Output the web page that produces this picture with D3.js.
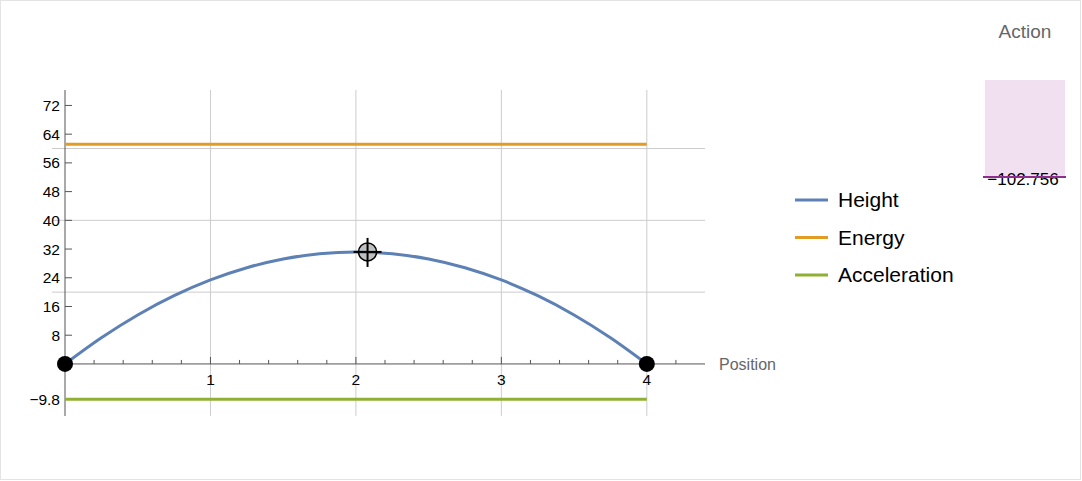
<!DOCTYPE html>
<html>
<head>
<meta charset="utf-8">
<script src="https://cdn.jsdelivr.net/npm/d3@7"></script>
<style>
  html, body { margin: 0; padding: 0; background: #fff; }
  svg { display: block; font-family: "Liberation Sans", Arial, sans-serif; }
</style>
</head>
<body>
<svg id="chart" width="1082" height="481"></svg>
<script>
// ---- data ----
const positions = [0, 0.25, 0.5, 0.75, 1, 1.25, 1.5, 1.75, 2, 2.25, 2.5, 2.75, 3, 3.25, 3.5, 3.75, 4];
const heightValues = [0, 7.3, 13.65, 19.0, 23.4, 26.8, 29.25, 30.7, 31.2, 30.7, 29.25, 26.8, 23.4, 19.0, 13.65, 7.3, 0];
const energyValues = [61.2, 61.2];
const energyPositions = [0, 4];
const accelerationValues = [-9.8, -9.8];
const accelerationPositions = [0, 4];
const endpointPositions = [0, 4];
const endpointValues = [0, 0];
const markerPosition = [2.08];
const markerValue = [31.2];
const yTickValues = [8, 16, 24, 32, 40, 48, 56, 64, 72, -9.8];
const yTickLabels = ["8", "16", "24", "32", "40", "48", "56", "64", "72", "\u22129.8"];
const yGridValues = [20, 40, 60];
const xTickValues = [1, 2, 3, 4];
const xTickLabels = ["1", "2", "3", "4"];
const legendNames = ["Height", "Energy", "Acceleration"];
const legendColors = ["#5e81b5", "#e19c24", "#8fb032"];
const actionValue = [-102.756];
const actionLabel = ["\u2212102.756"];

// ---- setup ----
const svg = d3.select("#chart");
svg.append("rect").attr("x", 0.5).attr("y", 0.5).attr("width", 1080).attr("height", 479)
  .attr("fill", "#fff").attr("stroke", "#e4e4e4");

const x = d3.scaleLinear().domain([0, 4.4]).range([65, 705]);
const y = d3.scaleLinear().domain([-14.5, 76.3]).range([416, 90]);

const axisColor = "#555";
const gridColor = "#cccccc";

// grid
const g = svg.append("g");
g.selectAll(".vgrid").data(xTickValues).join("line")
  .attr("x1", d => x(d)).attr("x2", d => x(d))
  .attr("y1", y.range()[1]).attr("y2", y.range()[0])
  .attr("stroke", gridColor).attr("stroke-width", 1);
g.selectAll(".hgrid").data(yGridValues).join("line")
  .attr("x1", 52).attr("x2", x.range()[1])
  .attr("y1", d => y(d)).attr("y2", d => y(d))
  .attr("stroke", gridColor).attr("stroke-width", 1);

// x axis
const minorX = d3.range(0, 22).map(i => i * 0.2).filter(v => v > 0.01);
const xAxis = svg.append("g");
xAxis.append("line").attr("x1", x(0)).attr("x2", x.range()[1])
  .attr("y1", y(0)).attr("y2", y(0)).attr("stroke", axisColor);
xAxis.selectAll(".minor").data(minorX).join("line")
  .attr("x1", d => x(d)).attr("x2", d => x(d))
  .attr("y1", y(0)).attr("y2", d => Math.abs(d - Math.round(d)) < 0.01 ? y(0) - 7 : y(0) - 4)
  .attr("stroke", axisColor);
xAxis.selectAll(".xlab").data(xTickValues).join("text")
  .attr("x", d => x(d)).attr("y", y(0) + 21)
  .attr("text-anchor", "middle").attr("font-size", 15.5).attr("fill", "#000")
  .text((d, i) => xTickLabels[i]);
svg.append("text").attr("x", 719).attr("y", y(0) + 6)
  .attr("font-size", 16).attr("fill", "#666").text("Position");

// y axis
const yAxis = svg.append("g");
yAxis.append("line").attr("x1", x(0)).attr("x2", x(0))
  .attr("y1", y.range()[1]).attr("y2", y.range()[0]).attr("stroke", axisColor);
yAxis.selectAll(".yt").data(yTickValues).join("line")
  .attr("x1", x(0)).attr("x2", x(0) + 7)
  .attr("y1", d => y(d)).attr("y2", d => y(d)).attr("stroke", axisColor);
yAxis.selectAll(".ylab").data(yTickValues).join("text")
  .attr("x", x(0) - 5).attr("y", d => y(d) + 5.5)
  .attr("text-anchor", "end").attr("font-size", 15.5).attr("fill", "#000")
  .text((d, i) => yTickLabels[i]);

// lines
const line = d3.line().x(d => x(d[0])).y(d => y(d[1]));
svg.append("path")
  .datum(energyPositions.map((p, i) => [p, energyValues[i]]))
  .attr("d", line).attr("fill", "none").attr("stroke", legendColors[1]).attr("stroke-width", 3);
svg.append("path")
  .datum(accelerationPositions.map((p, i) => [p, accelerationValues[i]]))
  .attr("d", line).attr("fill", "none").attr("stroke", legendColors[2]).attr("stroke-width", 3);
svg.append("path")
  .datum(positions.map((p, i) => [p, heightValues[i]]))
  .attr("d", line.curve(d3.curveCatmullRom)).attr("fill", "none")
  .attr("stroke", legendColors[0]).attr("stroke-width", 3);

// endpoints
svg.selectAll(".ep").data(endpointPositions).join("circle")
  .attr("cx", d => x(d)).attr("cy", (d, i) => y(endpointValues[i]))
  .attr("r", 8).attr("fill", "#000");

// marker
const mx = x(markerPosition[0]), my = y(markerValue[0]);
svg.append("circle").attr("cx", mx).attr("cy", my).attr("r", 9)
  .attr("fill", "rgba(150,150,150,0.6)").attr("stroke", "#000").attr("stroke-width", 1.5);
svg.append("line").attr("x1", mx - 14).attr("x2", mx + 14).attr("y1", my).attr("y2", my)
  .attr("stroke", "#000").attr("stroke-width", 2);
svg.append("line").attr("x1", mx).attr("x2", mx).attr("y1", my - 14).attr("y2", my + 15)
  .attr("stroke", "#000").attr("stroke-width", 2);

// legend
const leg = svg.append("g");
legendNames.forEach((name, i) => {
  const ly = 200 + i * 37.5;
  leg.append("line").attr("x1", 795).attr("x2", 828).attr("y1", ly).attr("y2", ly)
    .attr("stroke", legendColors[i]).attr("stroke-width", 3);
  leg.append("text").attr("x", 838).attr("y", ly + 7).attr("font-size", 21)
    .attr("fill", "#000").text(name);
});

// action panel
const aScale = d3.scaleLinear().domain([-102.756, 0]).range([177, 80]);
svg.append("text").attr("x", 1025).attr("y", 38).attr("text-anchor", "middle")
  .attr("font-size", 19).attr("fill", "#666").text("Action");
svg.append("rect").attr("x", 985).attr("y", aScale(0)).attr("width", 80)
  .attr("height", aScale(actionValue[0]) - aScale(0)).attr("fill", "#f0e0f0");
svg.append("text").attr("x", 1023).attr("y", aScale(actionValue[0]) + 8)
  .attr("text-anchor", "middle").attr("font-size", 17).attr("fill", "#000").text(actionLabel[0]);
svg.append("line").attr("x1", 983).attr("x2", 1066)
  .attr("y1", aScale(actionValue[0])).attr("y2", aScale(actionValue[0]))
  .attr("stroke", "#8e2f8e").attr("stroke-width", 2);
</script>
</body>
</html>
